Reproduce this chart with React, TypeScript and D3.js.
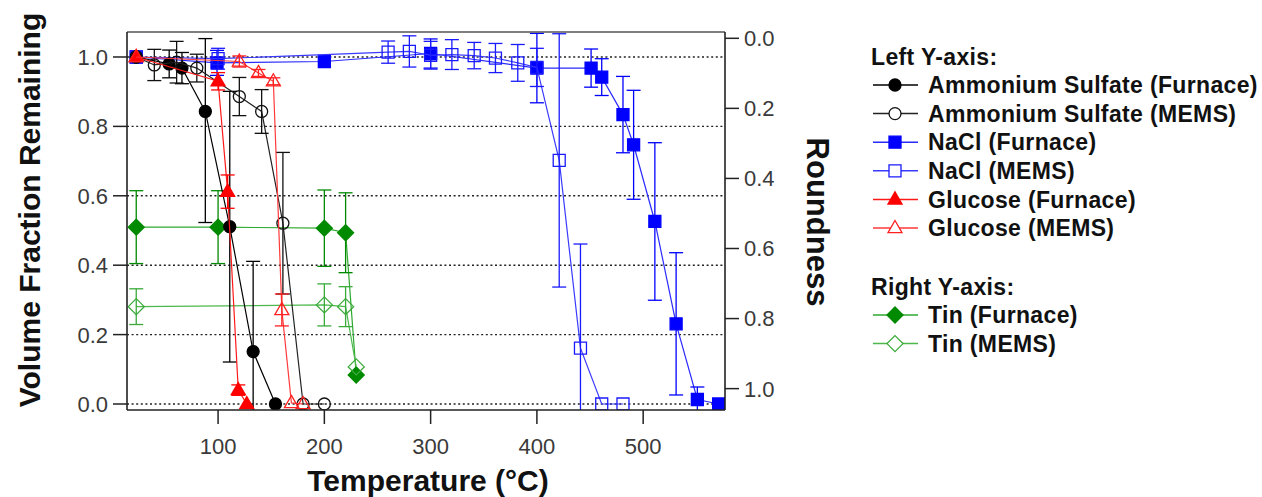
import React from "react";
import * as d3 from "d3";

// ---------- data ----------
const asFurnaceT = [23, 54, 66, 88, 111, 133, 154];
const asFurnaceV = [1.0, 0.98, 0.968, 0.843, 0.511, 0.151, 0.0];
const asFurnaceErrUp = [0, 0.04, 0.045, 0.21, 0.39, 0.26, 0];
const asFurnaceErrDn = [0, 0.04, 0.045, 0.32, 0.39, 0.26, 0];

const asMemsT = [23, 40, 61, 80, 120, 141, 161, 180, 200];
const asMemsV = [1.0, 0.977, 0.985, 0.968, 0.886, 0.843, 0.521, 0.0, 0.0];
const asMemsErr = [0, 0.045, 0.06, 0.04, 0.055, 0.063, 0.204, 0, 0];

const naclFurnaceT = [23, 99, 200, 300, 400, 451, 461, 481, 491, 511, 531, 551, 571];
const naclFurnaceV = [1.0, 0.983, 0.987, 1.01, 0.968, 0.968, 0.942, 0.834, 0.747, 0.526, 0.231, 0.013, 0.0];
const naclFurnaceErr = [0, 0.036, 0, 0.042, 0.1, 0.055, 0.053, 0.11, 0.157, 0.227, 0.205, 0.036, 0];

const naclMemsT = [23, 100, 260, 280, 300, 320, 341, 361, 382, 400, 421, 441, 461, 481];
const naclMemsV = [1.0, 0.995, 1.014, 1.016, 1.005, 1.007, 1.004, 0.997, 0.983, 0.97, 0.702, 0.161, 0.0, 0.0];
const naclMemsErr = [0, 0.03, 0.032, 0.045, 0.04, 0.043, 0.038, 0.042, 0.053, 0.055, 0.365, 0.3, 0, 0];

const glucFurnaceT = [23, 100, 109, 119, 127];
const glucFurnaceV = [1.0, 0.93, 0.612, 0.04, 0.0];
const glucFurnaceErr = [0, 0.025, 0.048, 0.015, 0];

const glucMemsT = [23, 120, 138, 152, 160, 169, 180];
const glucMemsV = [1.0, 0.987, 0.954, 0.93, 0.271, 0.003, 0.0];
const glucMemsErr = [0, 0.016, 0.01, 0.01, 0.046, 0, 0];

const tinFurnaceT = [23, 100, 200, 220, 230];
const tinFurnaceR = [0.539, 0.539, 0.542, 0.555, 0.961];
const tinFurnaceErr = [0.104, 0.104, 0.109, 0.114, 0];

const tinMemsT = [23, 200, 220, 230];
const tinMemsR = [0.766, 0.761, 0.766, 0.938];
const tinMemsErr = [0.051, 0.06, 0.057, 0];

const xTicks = [100, 200, 300, 400, 500];
const leftTicks = [0, 0.2, 0.4, 0.6, 0.8, 1.0];
const rightTicks = [0, 0.2, 0.4, 0.6, 0.8, 1.0];

const legendLeft = [
  "Ammonium Sulfate (Furnace)",
  "Ammonium Sulfate (MEMS)",
  "NaCl (Furnace)",
  "NaCl (MEMS)",
  "Glucose (Furnace)",
  "Glucose (MEMS)",
];
const legendRight = ["Tin (Furnace)", "Tin (MEMS)"];

// ---------- layout ----------
const W = 1262;
const H = 497;
const PL = 127, PR = 725, PT = 32, PB = 410;
const FONT = "'Liberation Sans', Arial, Helvetica, sans-serif";

const x = d3.scaleLinear().domain([14.3, 577]).range([PL, PR]);
const yL = d3.scaleLinear().domain([-0.0173, 1.072]).range([PB, PT]);
const yR = d3.scaleLinear().domain([-0.018, 1.061]).range([PT, PB]);

type Shape = "circle" | "square" | "triangle" | "diamond";

function markerPath(shape: Shape): string {
  if (shape === "circle") return d3.symbol(d3.symbolCircle, Math.PI * 6 * 6)() as string;
  if (shape === "square") return d3.symbol(d3.symbolSquare, 12 * 12)() as string;
  if (shape === "triangle") {
    const s = 14;
    const h = (s * Math.sqrt(3)) / 2;
    return `M0,${-h * 0.62}L${s / 2},${h * 0.38}L${-s / 2},${h * 0.38}Z`;
  }
  const r = 8;
  return `M0,${-r}L${r},0L0,${r}L${-r},0Z`;
}

interface Series {
  key: string;
  t: number[];
  v: number[];
  up: number[];
  dn: number[];
  axis: "L" | "R";
  color: string;
  lineColor: string;
  shape: Shape;
  filled: boolean;
}

const series: Series[] = [
  { key: "tinF", t: tinFurnaceT, v: tinFurnaceR, up: tinFurnaceErr, dn: tinFurnaceErr, axis: "R", color: "#008a00", lineColor: "#2ea82e", shape: "diamond", filled: true },
  { key: "tinM", t: tinMemsT, v: tinMemsR, up: tinMemsErr, dn: tinMemsErr, axis: "R", color: "#3aaa3a", lineColor: "#4cb84c", shape: "diamond", filled: false },
  { key: "naclF", t: naclFurnaceT, v: naclFurnaceV, up: naclFurnaceErr, dn: naclFurnaceErr, axis: "L", color: "#0000ff", lineColor: "#2a2aff", shape: "square", filled: true },
  { key: "naclM", t: naclMemsT, v: naclMemsV, up: naclMemsErr, dn: naclMemsErr, axis: "L", color: "#1a1aff", lineColor: "#3a3aff", shape: "square", filled: false },
  { key: "asF", t: asFurnaceT, v: asFurnaceV, up: asFurnaceErrUp, dn: asFurnaceErrDn, axis: "L", color: "#000000", lineColor: "#000000", shape: "circle", filled: true },
  { key: "asM", t: asMemsT, v: asMemsV, up: asMemsErr, dn: asMemsErr, axis: "L", color: "#111111", lineColor: "#222222", shape: "circle", filled: false },
  { key: "glF", t: glucFurnaceT, v: glucFurnaceV, up: glucFurnaceErr, dn: glucFurnaceErr, axis: "L", color: "#ff0000", lineColor: "#ff1a1a", shape: "triangle", filled: true },
  { key: "glM", t: glucMemsT, v: glucMemsV, up: glucMemsErr, dn: glucMemsErr, axis: "L", color: "#ff2020", lineColor: "#ff3a3a", shape: "triangle", filled: false },
];

const legendStyles = [
  series[4], series[5], series[2], series[3], series[6], series[7],
];
const legendStylesR = [series[0], series[1]];

function SeriesG({ s }: { s: Series }) {
  const yS = s.axis === "L" ? yL : yR;
  const pts = s.t.map((t, i) => [x(t), yS(s.v[i])] as [number, number]);
  const line = d3.line()(pts) as string;
  const mp = markerPath(s.shape);
  const cap = 7;
  return (
    <g>
      <path d={line} fill="none" stroke={s.lineColor} strokeWidth={1.2} />
      {s.t.map((t, i) => {
        if (!s.up[i] && !s.dn[i]) return null;
        const cx = x(t);
        const y1 = yS(s.v[i] + s.up[i]);
        const y2 = yS(s.v[i] - s.dn[i]);
        return (
          <g key={"e" + i} stroke={s.color} strokeWidth={1.3}>
            <line x1={cx} x2={cx} y1={y1} y2={y2} />
            <line x1={cx - cap} x2={cx + cap} y1={y1} y2={y1} />
            <line x1={cx - cap} x2={cx + cap} y1={y2} y2={y2} />
          </g>
        );
      })}
      {pts.map((p, i) => (
        <path
          key={"m" + i}
          d={mp}
          transform={`translate(${p[0]},${p[1]})`}
          fill={s.filled ? s.color : "none"}
          stroke={s.color}
          strokeWidth={1.3}
        />
      ))}
    </g>
  );
}

function LegendRow({ s, label, cy }: { s: Series; label: string; cy: number }) {
  return (
    <g>
      <line x1={873} x2={918} y1={cy} y2={cy} stroke={s.lineColor} strokeWidth={1.5} />
      <path
        d={markerPath(s.shape)}
        transform={`translate(895,${cy})`}
        fill={s.filled ? s.color : "#fff"}
        stroke={s.color}
        strokeWidth={1.3}
      />
      <text x={928} y={cy} dy="0.36em" fontSize={23} fontWeight="bold" letterSpacing={0.35} fill="#111">
        {label}
      </text>
    </g>
  );
}

export default function App() {
  const leftRowY = legendLeft.map((_, i) => 85 + i * 28.6);
  const rightRowY = legendRight.map((_, i) => 315 + i * 28.6);
  return (
    <svg
      width={W}
      height={H}
      style={{ position: "absolute", left: 0, top: 0, display: "block", background: "#fff" }}
      fontFamily={FONT}
    >
      <defs>
        <clipPath id="plotClip">
          <rect x={PL} y={PT} width={PR - PL} height={PB - PT} />
        </clipPath>
      </defs>

      {/* grid */}
      {leftTicks.map((t) => (
        <line key={"g" + t} x1={PL} x2={PR} y1={yL(t)} y2={yL(t)} stroke="#222" strokeWidth={1.4} strokeDasharray="2,2.6" />
      ))}

      {/* series */}
      <g clipPath="url(#plotClip)">
        {series.map((s) => (
          <SeriesG key={s.key} s={s} />
        ))}
      </g>

      {/* frame */}
      <line x1={PL} x2={PR} y1={PT} y2={PT} stroke="#555" strokeWidth={1.5} />
      <line x1={PL} x2={PR} y1={PB} y2={PB} stroke="#222" strokeWidth={1.6} />
      <line x1={PL} x2={PL} y1={PT} y2={PB} stroke="#222" strokeWidth={1.6} />
      <line x1={PR} x2={PR} y1={PT} y2={PB} stroke="#222" strokeWidth={1.6} />

      {/* left ticks */}
      {leftTicks.map((t) => (
        <g key={"lt" + t}>
          <line x1={PL - 14} x2={PL} y1={yL(t)} y2={yL(t)} stroke="#222" strokeWidth={1.5} />
          <text x={PL - 19} y={yL(t)} dy="0.36em" textAnchor="end" fontSize={22} fill="#3a3a3a">
            {d3.format(".1f")(t)}
          </text>
        </g>
      ))}
      {/* right ticks */}
      {rightTicks.map((t) => (
        <g key={"rt" + t}>
          <line x1={PR} x2={PR + 14} y1={yR(t)} y2={yR(t)} stroke="#222" strokeWidth={1.5} />
          <text x={PR + 19} y={yR(t)} dy="0.36em" textAnchor="start" fontSize={22} fill="#3a3a3a">
            {d3.format(".1f")(t)}
          </text>
        </g>
      ))}
      {/* bottom ticks */}
      {xTicks.map((t) => (
        <g key={"xt" + t}>
          <line x1={x(t)} x2={x(t)} y1={PB} y2={PB + 14} stroke="#222" strokeWidth={1.5} />
          <text x={x(t)} y={446} dy="0.36em" textAnchor="middle" fontSize={22} fill="#3a3a3a">
            {t}
          </text>
        </g>
      ))}

      {/* axis titles */}
      <text x={428} y={491} textAnchor="middle" fontSize={30} fontWeight="bold" fill="#111">
        Temperature (°C)
      </text>
      <text
        transform={`translate(29,210) rotate(-90)`}
        textAnchor="middle"
        dy="0.36em"
        fontSize={30}
        fontWeight="bold"
        fill="#111"
      >
        Volume Fraction Remaining
      </text>
      <text
        transform={`translate(818,222) rotate(90)`}
        textAnchor="middle"
        dy="0.36em"
        fontSize={31}
        fontWeight="bold"
        fill="#111"
      >
        Roundness
      </text>

      {/* legend */}
      <text x={871} y={57} dy="0.36em" fontSize={23} fontWeight="bold" letterSpacing={0.35} fill="#111">
        Left Y-axis:
      </text>
      {legendLeft.map((l, i) => (
        <LegendRow key={l} s={legendStyles[i]} label={l} cy={leftRowY[i]} />
      ))}
      <text x={871} y={287} dy="0.36em" fontSize={23} fontWeight="bold" letterSpacing={0.35} fill="#111">
        Right Y-axis:
      </text>
      {legendRight.map((l, i) => (
        <LegendRow key={l} s={legendStylesR[i]} label={l} cy={rightRowY[i]} />
      ))}
    </svg>
  );
}
